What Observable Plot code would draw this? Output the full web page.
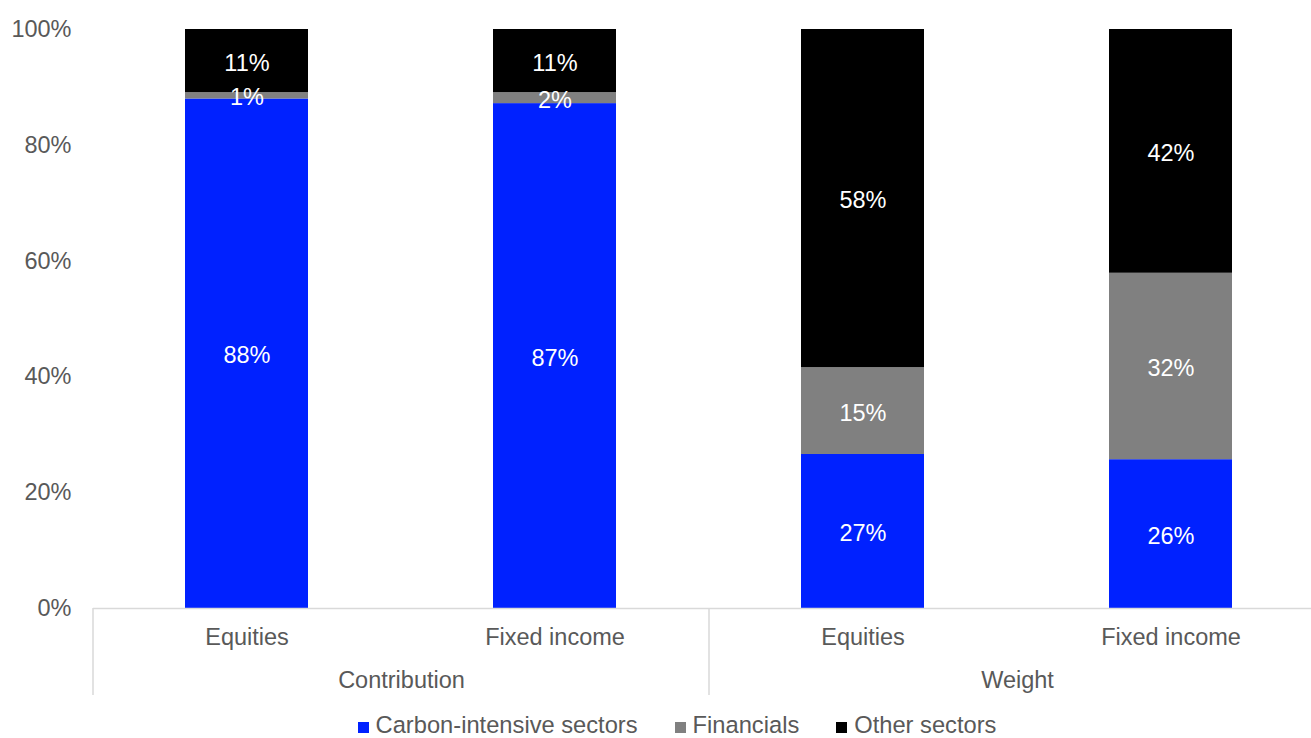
<!DOCTYPE html>
<html>
<head>
<meta charset="utf-8">
<script src="https://cdn.jsdelivr.net/npm/d3@7"></script>
<script src="https://cdn.jsdelivr.net/npm/@observablehq/plot@0.6"></script>
<style>
  html, body { margin: 0; padding: 0; background: #fff; overflow: hidden; }
  #legend { display: flex; justify-content: center; padding-left: 43px; gap: 37px;
    font-family: "Liberation Sans", Arial, sans-serif; font-size: 23.7px; color: #595959; line-height: 26px; height: 26px; }
  #legend .item { display: flex; align-items: center; gap: 7px; white-space: nowrap; }
  #legend .sw { width: 11px; height: 11px; display: inline-block; margin-top: 5px; }
</style>
</head>
<body>
<div id="chart"></div>
<script>
const groups = ["Contribution", "Contribution", "Weight", "Weight"];
const categories = ["Equities", "Fixed income", "Equities", "Fixed income"];
const sectors = ["Carbon-intensive sectors", "Financials", "Other sectors"];
const sectorColors = ["#0021ff", "#808080", "#000000"];
const carbon = [0.880, 0.872, 0.266, 0.257];
const financials = [0.011, 0.019, 0.150, 0.322];
const other = [0.109, 0.109, 0.584, 0.421];
const yTicks = [0, 0.2, 0.4, 0.6, 0.8, 1.0];

const series = [carbon, financials, other];
const rows = [];
series.forEach((vals, si) => {
  vals.forEach((v, i) => rows.push({group: groups[i], category: categories[i], sector: sectors[si], value: v}));
});
const groupOrder = [...new Set(groups)];
const categoryOrder = [...new Set(categories)];
const pct = d3.format(".0%");
const FS = 23.5;

const plot = Plot.plot({
  width: 1311,
  height: 712,
  marginLeft: 93,
  marginRight: -14,
  marginTop: 29,
  marginBottom: 104,
  style: {fontFamily: "'Liberation Sans', Arial, sans-serif", fontSize: FS + "px", color: "#595959", background: "white", overflow: "hidden"},
  fx: {domain: groupOrder, padding: 0, label: null},
  x: {domain: categoryOrder, paddingInner: 0.6, paddingOuter: 0.3, label: null},
  y: {domain: [0, 1], label: null},
  color: {domain: sectors, range: sectorColors},
  marks: [
    Plot.barY(rows, {fx: "group", x: "category", y: "value", fill: "sector", z: "sector"}),
    Plot.text(rows, Plot.stackY({fx: "group", x: "category", y: "value", z: "sector", text: d => pct(d.value), fill: "white", fontSize: FS, dy: 2})),
    Plot.ruleY([0], {stroke: "#d9d9d9", strokeWidth: 1.5}),
    Plot.axisY({ticks: yTicks, tickSize: 0, tickPadding: 22, tickFormat: pct, fontSize: FS, label: null}),
    Plot.axisX({tickSize: 0, tickPadding: 20, fontSize: FS, label: null}),
    Plot.axisFx({anchor: "bottom", tickSize: 0, tickPadding: 63, fontSize: FS, label: null})
  ]
});

document.getElementById("chart").appendChild(plot);

// group separators derived from the scales
const fx = plot.scale("fx");
const y = plot.scale("y");
const y0 = y.apply(0);
const sepBottom = y0 + 87;
const edges = groupOrder.map(g => fx.apply(g)).concat([fx.apply(groupOrder[groupOrder.length - 1]) + fx.bandwidth]);
d3.select(plot).append("g")
  .selectAll("line").data(edges).join("line")
  .attr("x1", d => d).attr("x2", d => d)
  .attr("y1", y0).attr("y2", sepBottom)
  .attr("stroke", "#d9d9d9").attr("stroke-width", 1.5);

// legend
const legend = document.createElement("div");
legend.id = "legend";
sectors.forEach((s, i) => {
  const item = document.createElement("span");
  item.className = "item";
  const sw = document.createElement("span");
  sw.className = "sw";
  sw.style.background = sectorColors[i];
  const t = document.createElement("span");
  t.textContent = s;
  item.appendChild(sw); item.appendChild(t);
  legend.appendChild(item);
});
document.getElementById("chart").appendChild(legend);
</script>
</body>
</html>
